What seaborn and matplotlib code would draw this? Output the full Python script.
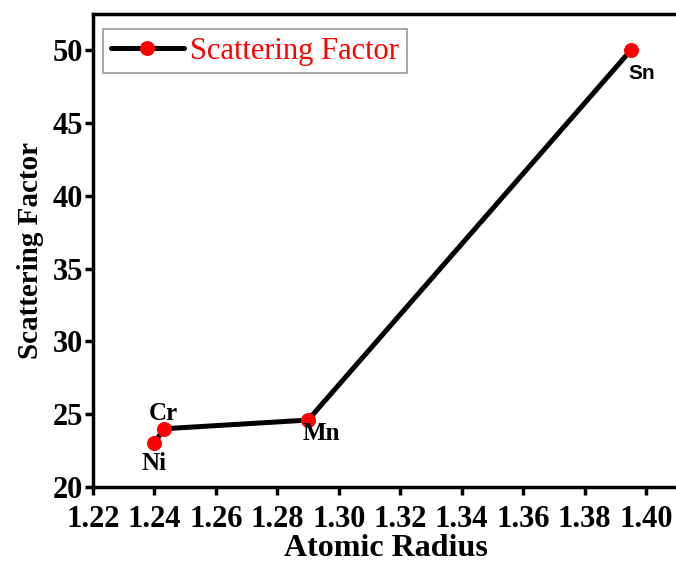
import matplotlib
matplotlib.use('Agg')
import matplotlib.pyplot as plt
import seaborn as sns
import pandas as pd

# Datos
elementos = ['Ni', 'Cr', 'Mn', 'Sn']
radio_atomico = [1.240, 1.243, 1.290, 1.395]
factor_dispersion = [23.0, 24.0, 24.6, 50.0]

df = pd.DataFrame({'radio': radio_atomico, 'factor': factor_dispersion, 'el': elementos})

sns.set_style("ticks")
plt.rcParams['font.family'] = ['Liberation Serif', 'DejaVu Serif']
plt.rcParams['font.weight'] = 'bold'
plt.rcParams['text.color'] = 'black'
plt.rcParams['axes.labelcolor'] = 'black'
plt.rcParams['xtick.color'] = 'black'
plt.rcParams['ytick.color'] = 'black'
plt.rcParams['axes.edgecolor'] = 'black'

fig = plt.figure(figsize=(6.76, 5.63), dpi=100)
ax = fig.add_axes([0.1376, 0.135, 0.868, 0.84])

sns.lineplot(data=df, x='radio', y='factor', ax=ax, color='black', linewidth=3.6,
             marker='o', markersize=10, markerfacecolor='red', markeredgecolor='red',
             label='Scattering Factor', sort=False)

# Etiquetas de cada punto
offsets = {'Ni': (0, -6.5, 'center', 'top', 18), 'Cr': (0, 6.5, 'center', 'baseline', 18),
           'Mn': (-4, -1.5, 'left', 'top', 18), 'Sn': (-1.5, -9.5, 'left', 'top', 15)}
for x, y, el in zip(radio_atomico, factor_dispersion, elementos):
    dx, dy, ha, va, fs = offsets[el]
    fam = ['Liberation Sans'] if el == 'Sn' else ['Liberation Serif']
    ax.annotate(el, (x, y), xytext=(dx, dy), textcoords='offset points',
                ha=ha, va=va, fontsize=fs, fontweight='bold', family=fam)

ax.set_xlim(1.22, 1.411)
ax.set_ylim(20, 52.5)
ax.set_xticks([1.22, 1.24, 1.26, 1.28, 1.30, 1.32, 1.34, 1.36, 1.38, 1.40])
ax.set_xticklabels([f'{v:.2f}' for v in ax.get_xticks()])
ax.set_yticks([20, 25, 30, 35, 40, 45, 50])

ax.set_xlabel('Atomic Radius', fontsize=23, fontweight='bold', labelpad=0)
ax.set_ylabel('Scattering Factor', fontsize=21, fontweight='bold', labelpad=6)
ax.tick_params(axis='both', labelsize=22, width=2.5, length=6, direction='out', pad=1)
ax.tick_params(axis='x', pad=7)
for s in ax.spines.values():
    s.set_linewidth(2.5)
    s.set_visible(True)

leg = ax.legend(loc='upper left', fontsize=22, frameon=True, fancybox=False,
                borderpad=0.25, handlelength=2.4, handletextpad=0.2, borderaxespad=0,
                bbox_to_anchor=(0.017, 0.968))
leg.get_frame().set_edgecolor('gray')
leg.get_frame().set_linewidth(1.2)
for t in leg.get_texts():
    t.set_color('red')
    t.set_fontweight('normal')

fig.savefig('out.png', dpi=100)
plt.close()
